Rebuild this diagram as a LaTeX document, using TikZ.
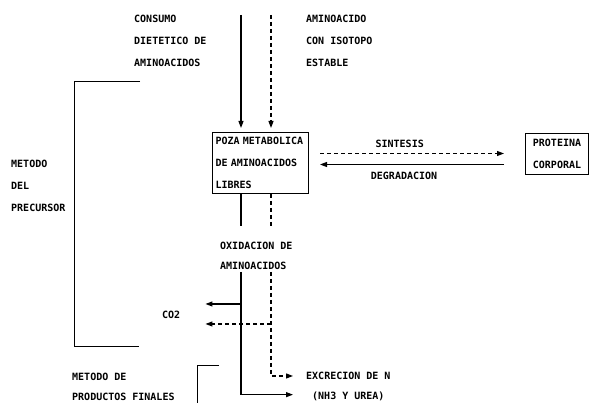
\documentclass[tikz,border=0pt]{standalone}
\usepackage{fontspec}
\newfontfamily\dotfont{DejaVu Sans Mono}
\usetikzlibrary{positioning,arrows.meta,calc}

\begin{document}
\begin{tikzpicture}[
  x=1pt, y=-1pt,
  font=\dotfont\bfseries\fontsize{10}{22}\selectfont,
  lab/.style={anchor=north west, inner sep=0pt, align=left},
  lablo/.style={lab, font=\dotfont\bfseries\fontsize{10}{20}\selectfont},
  pool/.style={draw, line width=1pt, anchor=north west, align=left, inner sep=3pt,
               text width=90pt, minimum height=61pt},
  protbox/.style={draw, line width=1pt, anchor=north west, align=center, inner sep=0pt,
                  minimum width=63pt, minimum height=41pt},
  arr/.style={-{Triangle[length=7pt,width=5pt]}, line width=1.1pt},
  darr/.style={arr, dash pattern=on 4pt off 3pt},
  sline/.style={line width=1.1pt},
  dline/.style={sline, dash pattern=on 4pt off 3pt},
  brk/.style={line width=1pt}
]
\useasboundingbox (0,0) rectangle (589,403);
% ----- inputs (top) -----
\node[lab] (diet) at (134,15) {CONSUMO\\DIETETICO DE\\AMINOACIDOS};
\node[lab] (iso)  at (306,15) {AMINOACIDO\\CON ISOTOPO\\ESTABLE};
\coordinate (dS) at (241,15);
\coordinate (dD) at (271,15);
% ----- free amino acid pool and body protein -----
\node[pool]    (poza) at (212,132) {POZA METABOLICA\\DE AMINOACIDOS\\LIBRES};
\node[protbox] (prot) at (525,133) {PROTEINA\\CORPORAL};
\draw[arr]  (dS) -- (dS |- poza.north) [shorten >=4pt];
\draw[darr] (dD) -- (dD |- poza.north) [shorten >=4pt];
\draw[darr, shorten <=11pt, shorten >=21pt] ([yshift=9.5pt]poza.east)
  -- node[pos=0.42, above, inner sep=5pt]{SINTESIS} ([yshift=9.5pt]poza.east -| prot.west);
\draw[arr, shorten <=21pt, shorten >=11pt] ([yshift=-1.5pt]poza.east -| prot.west)
  -- node[pos=0.56, below, inner sep=7pt]{DEGRADACION} ([yshift=-1.5pt]poza.east);
% ----- oxidation -----
\node[lablo] (oxid) at (220,242) {OXIDACION DE\\AMINOACIDOS};
\draw[sline] (poza.south -| dS) -- ++(0,32);
\draw[dline] (poza.south -| dD) -- ++(0,32);
\node[lab] (co2) at (162,311) {CO2};
\draw[arr, shorten >=25pt] ([yshift=11pt]co2.east -| dS) -- ([yshift=11pt]co2.east);
\draw[darr, shorten >=25pt] ([yshift=-9pt]co2.east -| dD) -- ([yshift=-9pt]co2.east);
% ----- nitrogen excretion -----
\node[lablo] (excr) at (306,372) {EXCRECION DE N};
\node[lablo] (nh3)  at (312,392) {(NH3 Y UREA)};
\draw[arr]  ([yshift=-2pt]oxid.south -| dS) |- ([xshift=-19pt, yshift=2pt]nh3.west);
\draw[darr] ([yshift=-2pt]oxid.south -| dD) |- ([xshift=-13pt]excr.west);
% ----- methods (brackets, left) -----
\node[lab]   (prec) at (11,160) {METODO\\DEL\\PRECURSOR};
\draw[brk] (140,82) -| (74,346) -- (139,346);
\node[lablo] (fin)  at (72,373) {METODO DE\\PRODUCTOS FINALES};
\draw[brk] (219,365) -| (197,403);
\end{tikzpicture}
\end{document}
